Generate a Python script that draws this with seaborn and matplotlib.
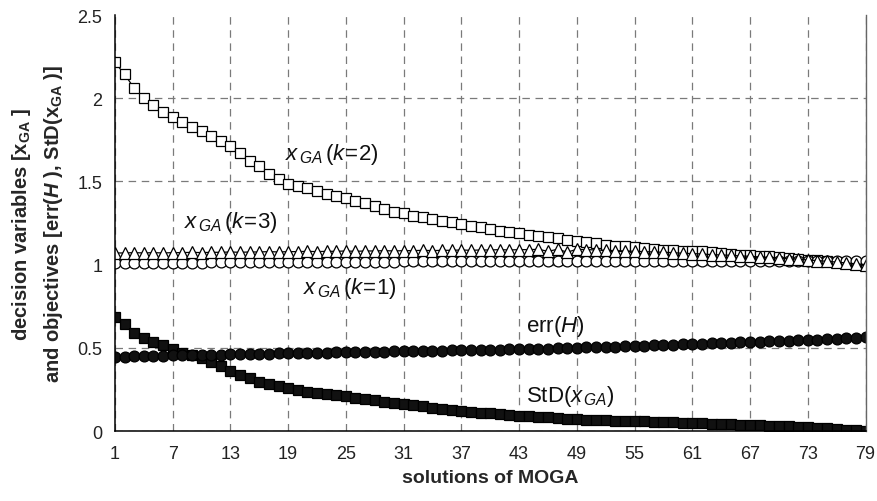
import numpy as np
import pandas as pd
import matplotlib
matplotlib.use('Agg')
import matplotlib.pyplot as plt
import seaborn as sns

solutions = list(range(1, 80))

x_k2 = [2.215, 2.145, 2.06, 2.00, 1.96, 1.92, 1.89, 1.86, 1.83, 1.80,
        1.775, 1.745, 1.715, 1.67, 1.625, 1.595, 1.545, 1.515, 1.485, 1.475,
        1.46, 1.44, 1.425, 1.415, 1.398, 1.384, 1.368, 1.354, 1.334, 1.318,
        1.31, 1.294, 1.288, 1.274, 1.26, 1.254, 1.244, 1.234, 1.228, 1.214,
        1.204, 1.194, 1.19, 1.18, 1.17, 1.164, 1.158, 1.15, 1.144, 1.138,
        1.127, 1.12, 1.114, 1.112, 1.108, 1.10, 1.094, 1.09, 1.088, 1.084,
        1.082, 1.08, 1.076, 1.07, 1.064, 1.06, 1.057, 1.054, 1.05, 1.046,
        1.04, 1.034, 1.03, 1.026, 1.02, 1.015, 1.01, 1.005, 1.0]

x_k3 = [1.07, 1.07, 1.072, 1.07, 1.072, 1.07, 1.072, 1.072, 1.074, 1.072,
        1.074, 1.074, 1.076, 1.074, 1.076, 1.076, 1.078, 1.076, 1.078, 1.078,
        1.08, 1.078, 1.08, 1.08, 1.082, 1.08, 1.082, 1.082, 1.084, 1.082,
        1.084, 1.084, 1.086, 1.084, 1.086, 1.086, 1.088, 1.086, 1.088, 1.088,
        1.09, 1.088, 1.09, 1.09, 1.092, 1.08, 1.092, 1.075, 1.092, 1.09,
        1.088, 1.086, 1.084, 1.082, 1.08, 1.078, 1.076, 1.074, 1.072, 1.068,
        1.066, 1.064, 1.06, 1.058, 1.056, 1.052, 1.05, 1.046, 1.043, 1.04,
        1.036, 1.032, 1.028, 1.024, 1.02, 1.015, 1.01, 1.005, 1.0]

x_k1 = [1.012, 1.012, 1.012, 1.012, 1.012, 1.012, 1.012, 1.012, 1.012, 1.012,
        1.015, 1.015, 1.015, 1.015, 1.015, 1.015, 1.015, 1.015, 1.015, 1.015,
        1.015, 1.015, 1.015, 1.015, 1.015, 1.015, 1.015, 1.015, 1.015, 1.015,
        1.02, 1.02, 1.02, 1.02, 1.02, 1.02, 1.02, 1.02, 1.02, 1.02,
        1.02, 1.02, 1.02, 1.02, 1.02, 1.02, 1.02, 1.02, 1.02, 1.02,
        1.02, 1.02, 1.02, 1.02, 1.02, 1.02, 1.02, 1.02, 1.02, 1.02,
        1.02, 1.02, 1.02, 1.02, 1.02, 1.02, 1.02, 1.02, 1.02, 1.02,
        1.02, 1.02, 1.02, 1.02, 1.02, 1.02, 1.02, 1.02, 1.02]

err_h = [0.447, 0.447, 0.448, 0.448, 0.450, 0.452, 0.455, 0.455, 0.456, 0.456,
         0.457, 0.458, 0.460, 0.462, 0.463, 0.464, 0.465, 0.466, 0.467, 0.468,
         0.469, 0.470, 0.471, 0.472, 0.473, 0.474, 0.475, 0.476, 0.477, 0.478,
         0.479, 0.480, 0.481, 0.482, 0.483, 0.484, 0.485, 0.486, 0.487, 0.488,
         0.489, 0.490, 0.491, 0.492, 0.493, 0.495, 0.497, 0.499, 0.500, 0.502,
         0.503, 0.505, 0.507, 0.509, 0.511, 0.513, 0.515, 0.517, 0.519, 0.521,
         0.523, 0.525, 0.527, 0.529, 0.531, 0.533, 0.535, 0.537, 0.539, 0.541,
         0.543, 0.545, 0.547, 0.549, 0.551, 0.554, 0.557, 0.560, 0.565]

std_x = [0.683, 0.643, 0.589, 0.557, 0.537, 0.517, 0.493, 0.469, 0.457, 0.437,
         0.416, 0.389, 0.362, 0.337, 0.317, 0.296, 0.282, 0.268, 0.256, 0.246,
         0.236, 0.228, 0.22, 0.214, 0.208, 0.2, 0.193, 0.185, 0.177, 0.169,
         0.162, 0.155, 0.148, 0.141, 0.134, 0.128, 0.122, 0.116, 0.111, 0.106,
         0.101, 0.096, 0.092, 0.088, 0.085, 0.082, 0.078, 0.075, 0.072, 0.069,
         0.067, 0.065, 0.063, 0.062, 0.06, 0.058, 0.056, 0.054, 0.052, 0.05,
         0.048, 0.046, 0.044, 0.042, 0.04, 0.038, 0.036, 0.034, 0.032, 0.03,
         0.028, 0.025, 0.022, 0.019, 0.016, 0.012, 0.009, 0.005, 0.002]

x_ticks = list(range(1, 80, 6))
y_ticks = [0, 0.5, 1, 1.5, 2, 2.5]
y_tick_labels = ['0', '0.5', '1', '1.5', '2', '2.5']

sns.set_style('white')
plt.rcParams['font.family'] = ['Liberation Sans', 'DejaVu Sans']
plt.rcParams['mathtext.fontset'] = 'custom'
plt.rcParams['mathtext.rm'] = 'Liberation Sans'
plt.rcParams['mathtext.it'] = 'Liberation Sans:italic'
plt.rcParams['mathtext.bf'] = 'Liberation Sans:bold'
plt.rcParams['mathtext.bfit'] = 'Liberation Sans:italic:bold'

fig = plt.figure(figsize=(8.77, 5.02), dpi=100)
ax = fig.add_axes([0.131, 0.1394, 0.856, 0.8287])

line_kw = dict(color='black', lw=0.9, mec='black', mew=0.9)
sns.lineplot(x=solutions, y=std_x, ax=ax, marker='s', ms=7.2, mfc='#111111', **line_kw)
sns.lineplot(x=solutions, y=err_h, ax=ax, marker='o', ms=7.8, mfc='#111111', **line_kw)
sns.lineplot(x=solutions, y=x_k2, ax=ax, marker='s', ms=7.8, mfc='white', **line_kw)
sns.lineplot(x=solutions, y=x_k1, ax=ax, marker='o', ms=7.8, mfc='white', **line_kw)
sns.lineplot(x=solutions, y=x_k3, ax=ax, marker='^', ms=8.5, mfc='white', **line_kw)

ax.set_xlim(1, 79)
ax.set_ylim(0, 2.5)
ax.set_xticks(x_ticks)
ax.set_yticks(y_ticks)
ax.set_yticklabels(y_tick_labels)
ax.tick_params(axis='both', direction='inout', length=8, width=1, color='black',
               labelsize=13, labelcolor='#222222')
ax.tick_params(axis='x', pad=6)
ax.tick_params(axis='y', pad=5)

ax.grid(True, ls=(0, (6, 4.5)), color='#7a7a7a', lw=0.9)
ax.yaxis.get_gridlines()[-1].set_visible(False)
ax.set_axisbelow(True)

for side in ['left', 'bottom']:
    ax.spines[side].set_color('black')
    ax.spines[side].set_linewidth(1.1)
ax.spines['right'].set_color('#666666')
ax.spines['right'].set_linewidth(1.0)
ax.spines['top'].set_visible(False)

ax.set_xlabel('solutions of MOGA', fontsize=14, fontweight='bold', labelpad=5)
ax.set_ylabel('decision variables [$\\mathbf{x}_{\\mathbf{GA}}$ ]\n'
              'and objectives [err($\\mathbfit{H}$ ), StD($\\mathbf{x}_{\\mathbf{GA}}$ )]',
              fontsize=14.5, fontweight='bold', labelpad=9, linespacing=1.55)

lab = dict(fontsize=16, ha='center', va='center', color='#111111')
ax.text(23.5, 1.665, '$x_{\\,GA}\\,(k\\!=\\!2)$', **lab)
ax.text(13.0, 1.26, '$x_{\\,GA}\\,(k\\!=\\!3)$', **lab)
ax.text(25.4, 0.86, '$x_{\\,GA}\\,(k\\!=\\!1)$', **lab)
ax.text(46.8, 0.633, 'err($H$)', **lab)
ax.text(48.3, 0.212, 'StD($x_{\\,GA}$)', **lab)

plt.savefig('out.png', dpi=100)
